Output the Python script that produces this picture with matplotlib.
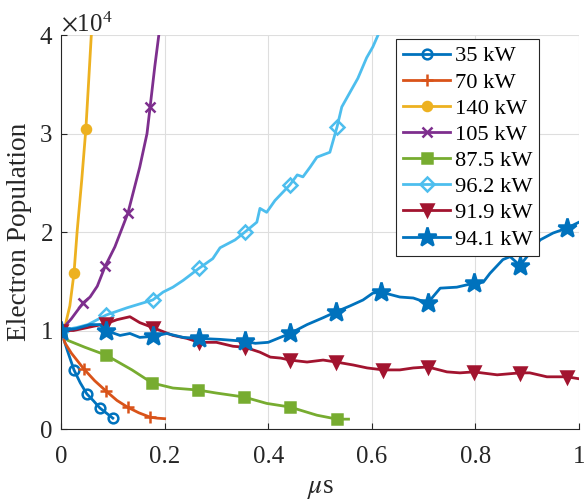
import numpy as np
import matplotlib
matplotlib.use("Agg")
import matplotlib.pyplot as plt
from matplotlib.ticker import ScalarFormatter

plt.rcParams['font.family'] = ['Liberation Serif', 'DejaVu Serif']
plt.rcParams['mathtext.fontset'] = 'stix'

# electron population in units of 1e4, time in microseconds
labels = ["35 kW", "70 kW", "140 kW", "105 kW", "87.5 kW", "96.2 kW", "91.9 kW", "94.1 kW"]

x_35 = [0, 0.012, 0.025, 0.037, 0.05, 0.062, 0.075, 0.088, 0.1]
y_35 = [1.0, 0.80, 0.60, 0.47, 0.355, 0.29, 0.213, 0.16, 0.11]
m_35 = [0, 2, 4, 6, 8]

x_70 = [0, 0.008, 0.02, 0.044, 0.065, 0.087, 0.108, 0.129, 0.15, 0.172, 0.186, 0.2]
y_70 = [1.0, 0.87, 0.77, 0.61, 0.49, 0.385, 0.29, 0.22, 0.165, 0.12, 0.11, 0.105]
m_70 = [0, 3, 5, 7, 9]

x_140 = [0, 0.008, 0.017, 0.025, 0.031, 0.04, 0.048, 0.053, 0.059]
y_140 = [1.0, 1.05, 1.25, 1.58, 2.0, 2.53, 3.05, 3.5, 4.05]
m_140 = [0, 3, 6]

x_105 = [0, 0.02, 0.0425, 0.056, 0.07, 0.085, 0.104, 0.129, 0.152, 0.166, 0.172, 0.181, 0.19]
y_105 = [1.0, 1.12, 1.28, 1.34, 1.45, 1.65, 1.85, 2.19, 2.66, 3.0, 3.27, 3.68, 4.05]
m_105 = [0, 2, 5, 7, 10]

x_875 = [0, 0.013, 0.046, 0.087, 0.137, 0.176, 0.216, 0.264, 0.30, 0.353, 0.397, 0.442, 0.494, 0.533, 0.555]
y_875 = [1.0, 0.90, 0.83, 0.75, 0.60, 0.467, 0.416, 0.396, 0.365, 0.325, 0.26, 0.223, 0.14, 0.10, 0.10]
m_875 = [0, 3, 5, 7, 9, 11, 13]

x_962 = [0, 0.03, 0.052, 0.087, 0.127, 0.177, 0.197, 0.216, 0.236, 0.266, 0.293, 0.307,
         0.336, 0.355, 0.378, 0.384, 0.397, 0.413, 0.442, 0.456, 0.467, 0.481, 0.494,
         0.519, 0.533, 0.542, 0.558, 0.573, 0.59, 0.602, 0.612]
y_962 = [1.0, 1.03, 1.06, 1.157, 1.23, 1.31, 1.39, 1.44, 1.51, 1.63, 1.73, 1.84,
         1.92, 2.0, 2.10, 2.24, 2.20, 2.32, 2.48, 2.58, 2.56, 2.66, 2.76,
         2.81, 3.07, 3.27, 3.42, 3.56, 3.77, 3.88, 4.0]
m_962 = [0, 3, 5, 9, 13, 18, 24]

x_919 = [0, 0.024, 0.069, 0.087, 0.108, 0.133, 0.152, 0.177, 0.216, 0.243, 0.266, 0.30,
         0.332, 0.355, 0.384, 0.404, 0.424, 0.442, 0.475, 0.506, 0.531, 0.564, 0.591,
         0.622, 0.654, 0.68, 0.708, 0.745, 0.77, 0.797, 0.842, 0.886, 0.905, 0.938,
         0.977, 1.0]
y_919 = [1.0, 1.0, 1.05, 1.07, 1.11, 1.14, 1.08, 1.03, 0.95, 0.92, 0.88, 0.88,
         0.84, 0.83, 0.78, 0.73, 0.72, 0.70, 0.68, 0.70, 0.68, 0.65, 0.62,
         0.60, 0.60, 0.62, 0.63, 0.58, 0.57, 0.58, 0.55, 0.57, 0.57, 0.53,
         0.53, 0.51]
m_919 = [0, 3, 7, 10, 13, 17, 20, 23, 26, 29, 31, 34]

x_941 = [0, 0.03, 0.056, 0.075, 0.087, 0.114, 0.133, 0.152, 0.177, 0.204, 0.236, 0.266,
         0.307, 0.332, 0.355, 0.375, 0.4, 0.442, 0.475, 0.506, 0.531, 0.558, 0.583,
         0.602, 0.618, 0.654, 0.68, 0.708, 0.732, 0.764, 0.797, 0.815, 0.828, 0.853,
         0.867, 0.886, 0.925, 0.95, 0.977, 1.0]
y_941 = [1.0, 1.02, 1.06, 1.06, 1.0, 0.95, 0.97, 0.93, 0.94, 0.97, 0.93, 0.92,
         0.91, 0.90, 0.89, 0.87, 0.88, 0.97, 1.06, 1.13, 1.19, 1.25, 1.31,
         1.38, 1.39, 1.34, 1.33, 1.28, 1.43, 1.44, 1.48, 1.49, 1.58, 1.72,
         1.75, 1.66, 1.92, 1.99, 2.04, 2.10]
m_941 = [0, 4, 8, 11, 14, 17, 20, 24, 27, 30, 35, 38]

xs = [x_35, x_70, x_140, x_105, x_875, x_962, x_919, x_941]
ys = [y_35, y_70, y_140, y_105, y_875, y_962, y_919, y_941]
ms = [m_35, m_70, m_140, m_105, m_875, m_962, m_919, m_941]

colors = ['#0072BD', '#D95319', '#EDB120', '#7E2F8E', '#77AC30', '#4DBEEE', '#A2142F', '#0072BD']
markers = ['o', '+', 'o', 'x', 's', 'D', 'v', '*']
msizes = [7, 8, 6.5, 6.5, 6.5, 7, 8.5, 14]
filled = [False, True, True, True, True, False, True, True]

fig = plt.figure(figsize=(5.84, 5.04), dpi=100)
ax = fig.add_axes([0.1045, 0.1488, 0.887, 0.7817])

for i in range(len(labels)):
    ax.plot(np.array(xs[i]), np.array(ys[i]) * 1e4, color=colors[i], lw=2,
            marker=markers[i], markevery=ms[i], ms=msizes[i], mew=1.8,
            mfc=colors[i] if filled[i] else 'none', mec=colors[i],
            label=labels[i], clip_on=True)

ax.set_xlim(0, 1)
ax.set_ylim(0, 4e4)
ax.set_xticks([0, 0.2, 0.4, 0.6, 0.8, 1])
ax.set_xticklabels(['0', '0.2', '0.4', '0.6', '0.8', '1'])
ax.set_yticks([0, 1e4, 2e4, 3e4, 4e4])
fmt = ScalarFormatter(useMathText=True)
fmt.set_powerlimits((0, 0))
ax.yaxis.set_major_formatter(fmt)
ax.yaxis.get_offset_text().set_fontsize(17.9)

ax.grid(True, color='#dedede', lw=0.8)
ax.set_axisbelow(True)
for s in ['top', 'right']:
    ax.spines[s].set_visible(False)
for s in ['left', 'bottom']:
    ax.spines[s].set_color('#262626')
    ax.spines[s].set_linewidth(0.8)
ax.tick_params(direction='in', length=4, width=0.8, color='#262626',
               labelsize=17.9, labelcolor='#262626', pad=6)
ax.tick_params(axis='x', pad=12)

ax.set_xlabel(r'$\mu$s', fontsize=19.7, color='#262626', labelpad=6)
ax.set_ylabel('Electron Population', fontsize=19.7, color='#262626', labelpad=5)

leg = ax.legend(loc='upper right', bbox_to_anchor=(0.923, 0.99), borderaxespad=0,
                fontsize=16.2, handlelength=2.1, handletextpad=0.2,
                labelspacing=0.24, borderpad=0.3, fancybox=False, framealpha=1)
leg.get_frame().set_edgecolor('#262626')
leg.get_frame().set_linewidth(0.8)

fig.savefig("out.png", dpi=100)
